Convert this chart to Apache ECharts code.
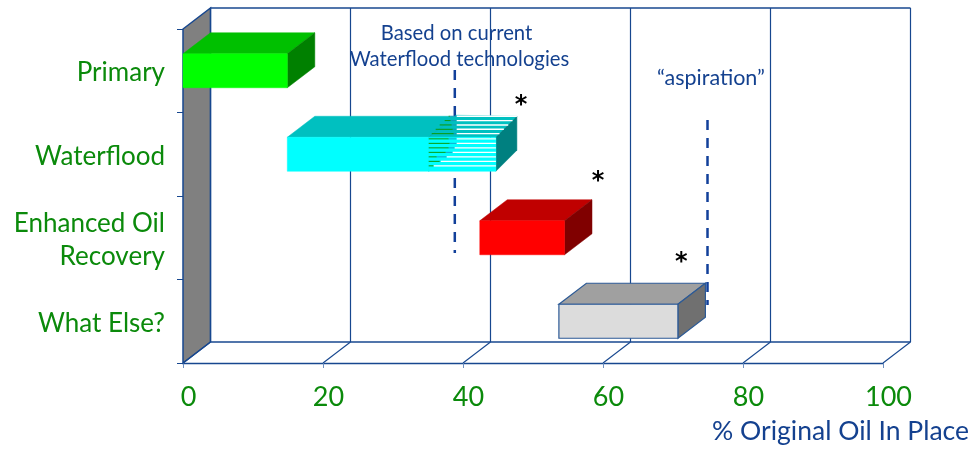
<!DOCTYPE html>
<html><head><meta charset="utf-8">
<style>html,body{margin:0;padding:0;background:#fff}#c{width:974px;height:450px}</style>
<script src="https://cdn.jsdelivr.net/npm/echarts@6/dist/echarts.min.js"></script>
</head><body><div id="c"></div>
<script>
// Recovery stages and the share of original oil in place each one reaches
var categories = ['Primary', 'Waterflood', 'Enhanced Oil\nRecovery', 'What Else?'];
var tickValues = [0, 20, 40, 60, 80, 100];
var solidStart = [0, 14.9, 42.4, 53.7];
var solidEnd = [14.9, 35.1, 54.5, 70.7];
var frontColors = ['#00ff00', '#00ffff', '#ff0000', '#dcdcdc'];
var topColors = ['#00c000', '#00c0c0', '#c00000', '#a0a0a0'];
var sideColors = ['#008000', '#008080', '#800000', '#707070'];
var hatchStart = 35.1;
var hatchEnd = 44.7;
var currentLimit = 34.9;
var aspirationLimit = 71;
var starRow = [0.85, 1.76, 2.73];
var starValue = [48.3, 59.3, 71.2];

var NAVY = '#17478f', GREEN = '#0b8a0b', FONT = 'Lato';
var DX = 27.5, DY = -21;

// Floor, back wall and side wall of the 3D box, positioned from the axis scales
function renderFrame(params, api) {
  var kids = [];
  var l = api.coord([0, 0]), r = api.coord([100, 0]);
  var yt = params.coordSys.y, yb = params.coordSys.y + params.coordSys.height;
  var x0 = l[0], x1 = r[0];
  var line = function (a, b, w) {
    kids.push({ type: 'line', shape: { x1: a[0], y1: a[1], x2: b[0], y2: b[1] }, style: { stroke: NAVY, lineWidth: w || 1 } });
  };
  kids.push({ type: 'polygon', shape: { points: [[x0, yt], [x0 + DX, yt + DY], [x0 + DX, yb + DY], [x0, yb]] }, style: { fill: '#808080', stroke: NAVY, lineWidth: 1.5 } });
  line([x0 + DX, yt + DY], [x1 + DX, yt + DY], 1.4);
  line([x0 + DX, yb + DY], [x1 + DX, yb + DY], 1.4);
  tickValues.forEach(function (v) {
    var x = api.coord([v, 0])[0];
    line([x + DX, yt + DY], [x + DX, yb + DY], 1.2);
    line([x, yb], [x + DX, yb + DY], 1.1);
  });
  return { type: 'group', children: kids };
}

function box(x0, x1, yTop, yBot, front, top, side, dx, dy, stroke) {
  var mk = function (p, fill) {
    return { type: 'polygon', shape: { points: p }, style: { fill: fill, stroke: stroke || fill, lineWidth: stroke ? 1.2 : 0.5 } };
  };
  return [
    mk([[x0, yTop], [x0 + dx, yTop + dy], [x1 + dx, yTop + dy], [x1, yTop]], top),
    mk([[x1, yTop], [x1 + dx, yTop + dy], [x1 + dx, yBot + dy], [x1, yBot]], side),
    mk([[x0, yTop], [x1, yTop], [x1, yBot], [x0, yBot]], front)
  ];
}

// One extruded bar per category
function renderBar(params, api) {
  var i = api.value(0);
  var a = api.coord([api.value(1), i]), b = api.coord([api.value(2), i]);
  var h = 34;
  return { type: 'group', children: box(a[0], b[0], a[1] - h / 2, a[1] + h / 2,
    frontColors[i], topColors[i], sideColors[i], DX, DY, i === 3 ? '#2c5a96' : null) };
}

// The striped part of the Waterflood bar: what current technology has not yet reached
function renderHatch(params, api) {
  var a = api.coord([hatchStart, 1]), b = api.coord([hatchEnd, 1]);
  var h = 34, yt = a[1] - h / 2, yb = a[1] + h / 2, kids = [];
  var x0 = a[0], x1 = b[0];
  box(x0, x1, yt, yb, '#00ffff', '#00c0c0', '#008080', 21, -21, null).forEach(function (k) { kids.push(k); });
  // top face sits against the solid section, which ends further back
  kids[0].shape.points = [[x0, yt], [x0 + DX, yt - 22], [x1 + 21, yt - 21], [x1, yt]];
  var seg = function (xa, xb, y, c, o, w) {
    if (xb <= xa) { return; }
    kids.push({ type: 'line', shape: { x1: xa, y1: y, x2: xb, y2: y }, style: { stroke: c, lineWidth: w || 1.4, opacity: o || 1 } });
  };
  // [green end, white start] along each stripe of the front face
  var frontStripes = [[20, 28], [21, 28], [20, 26], [17, 24], [8, 18], [11, 12], [5, 5]];
  frontStripes.forEach(function (g, k) {
    var y = yt + 1.6 + k * 4.5;
    seg(x0, x0 + g[0], y, '#0a9a0a', 1, 1);
    seg(x0 + g[0], x0 + g[1], y, '#1f7fb0', 0.7, 1);
    seg(x0 + g[1], x1, y, '#ffffff');
  });
  // [green start, green end] along each stripe of the top face
  var topStripes = [[20, 21], [16, 22], [11, 23], [7, 24], [3, 25]];
  topStripes.forEach(function (g, k) {
    var lift = 21 - k * 4.35, y = yt - lift;
    seg(x0 + g[0], x0 + g[1], y, '#0a9a0a', 1, 1);
    seg(x0 + g[1], x0 + 28, y, '#1f7fb0', 0.6, 1);
    seg(x0 + 28, x1 + lift, y, '#ffffff');
  });
  return { type: 'group', children: kids };
}

// Dashed limits stand on the back wall, so they take the depth offset too
function renderLimit(params, api) {
  var x = api.coord([api.value(0), 0])[0] + DX;
  return { type: 'line', shape: { x1: x, y1: api.value(1), x2: x, y2: api.value(2) },
    style: { stroke: '#12409a', lineWidth: 2.5, lineDash: [10, 8] } };
}

function renderStar(params, api) {
  var p = api.coord([api.value(0), api.value(1)]);
  return { type: 'text', style: { x: p[0], y: p[1] + 6, text: '*', fill: '#000', font: 'bold 24px "DejaVu Sans"', align: 'center', verticalAlign: 'middle' } };
}

function note(text, x, y, size) {
  return { type: 'text', x: x, y: y, style: { text: text, fill: '#14418f', font: size + 'px ' + FONT, textAlign: 'center', textVerticalAlign: 'middle' } };
}

var chart = echarts.init(document.getElementById('c'), null, { renderer: 'canvas' });
chart.setOption({
  animation: false,
  backgroundColor: '#ffffff',
  // second grid only carries the category names, a touch lower than the bar centres
  grid: [
    { left: 183, top: 29, width: 700, height: 334 },
    { left: 183, top: 31, width: 700, height: 334 }
  ],
  xAxis: [
    {
      type: 'value', min: 0, max: 100, interval: 20,
      splitLine: { show: false },
      axisLine: { show: true, onZero: false, lineStyle: { color: NAVY, width: 1.4 } },
      axisTick: { show: true, length: 5, lineStyle: { color: '#6f8fbf' } },
      axisLabel: { color: GREEN, fontSize: 27, fontFamily: FONT, margin: 21, padding: [0, 0, 0, 11] }
    },
    { type: 'value', gridIndex: 1, min: 0, max: 100, show: false }
  ],
  yAxis: [
    {
      type: 'category', data: categories, inverse: true,
      axisLine: { show: false, onZero: false },
      axisTick: { show: true, length: 6, alignWithLabel: false, lineStyle: { color: NAVY } },
      axisLabel: { show: false }
    },
    { type: 'value', min: 0, max: 4, inverse: true, show: false },
    {
      type: 'category', gridIndex: 1, data: categories, inverse: true,
      axisLine: { show: false, onZero: false },
      axisTick: { show: false },
      axisLabel: { color: GREEN, fontSize: 26, fontFamily: FONT, margin: 18, lineHeight: 33, align: 'right' }
    }
  ],
  series: [
    { type: 'custom', renderItem: renderFrame, silent: true, z: 1, data: [[0, 0]], encode: { x: 0, y: 1 } },
    { type: 'custom', renderItem: renderLimit, silent: true, z: 2, data: [[currentLimit, 70, 253], [aspirationLimit, 120, 305]], encode: { x: 0 } },
    { type: 'custom', renderItem: renderBar, silent: true, z: 3,
      data: categories.map(function (c, i) { return [i, solidStart[i], solidEnd[i]]; }), encode: { x: [1, 2], y: 0 } },
    { type: 'custom', renderItem: renderHatch, silent: true, z: 4, data: [[hatchStart, 1]], encode: { x: 0, y: 1 } },
    { type: 'custom', renderItem: renderStar, silent: true, z: 5, yAxisIndex: 1,
      data: starValue.map(function (v, i) { return [v, starRow[i]]; }), encode: { x: 0, y: 1 } }
  ],
  graphic: [
    note('Based on current', 456.5, 33, 20.3),
    note('Waterflood technologies', 459.5, 59, 20.3),
    note('\u201Caspiration\u201D', 711, 78, 21.5),
    { type: 'text', x: 969, y: 431, style: { text: '% Original Oil In Place', fill: '#14418f', font: '26.5px ' + FONT, textAlign: 'right', textVerticalAlign: 'middle' } }
  ]
});
</script></body></html>
